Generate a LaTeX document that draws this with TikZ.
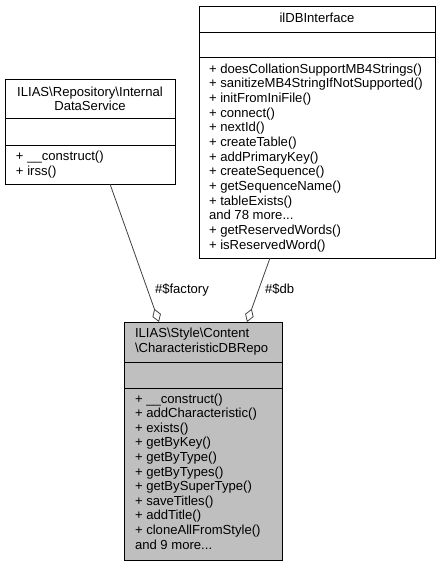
\documentclass[tikz,border=0pt]{standalone}
\usepackage{fontspec}
\setmainfont{Liberation Sans}
\usetikzlibrary{arrows.meta,calc}
\begin{document}
\begin{tikzpicture}[x=1pt,y=-1pt,
  box/.style={draw=black,line width=0.9pt},
  sep/.style={draw=black,line width=0.9pt},
  txt/.style={inner sep=0pt,outer sep=0pt,font=\fontsize{13.1}{14.6}\selectfont,text=black},
  edge/.style={draw=black!75,line width=0.8pt,-{Diamond[open,length=14pt,width=9pt,line width=0.8pt]}},
  lbl/.style={txt}
]
\useasboundingbox (0,0) rectangle (440,565);
% ilDBInterface
\path[box] (199,6) rectangle (435,258);
\coordinate (idbb) at (270,258);
\draw[sep] (199,32) -- (435,32);
\draw[sep] (199,57) -- (435,57);
\node[txt,anchor=base] (idbt) at (317,22) {ilDBInterface};
\foreach \t [count=\i] in {+ doesCollationSupportMB4Strings(),+ sanitizeMB4StringIfNotSupported(),+ initFromIniFile(),+ connect(),+ nextId(),+ createTable(),+ addPrimaryKey(),+ createSequence(),+ getSequenceName(),+ tableExists(),and 78 more{.}{.}{.},+ getReservedWords(),+ isReservedWord()}
  \node[txt,anchor=base west] (idbm\i) at (209,{73+14.67*(\i-1)}) {\t};
% Internal DataService
\path[box] (5,79) rectangle (175,184);
\coordinate (idsb) at (110,184);
\draw[sep] (5,118) -- (175,118);
\draw[sep] (5,145) -- (175,145);
\node[txt,anchor=base] (idst1) at (90,96) {ILIAS\textbackslash Repository\textbackslash Internal};
\node[txt,anchor=base] (idst2) at (90,110.6) {DataService};
\node[txt,anchor=base west] (idsm1) at (16,160.6) {+ \_\_construct()};
\node[txt,anchor=base west] (idsm2) at (16,175.2) {+ irss()};
% Main
\path[box,fill=black!25] (124,322) rectangle (282,560);
\coordinate (mainf) at (159,322);
\coordinate (maind) at (247,322);
\draw[sep] (124,362) -- (282,362);
\draw[sep] (124,388) -- (282,388);
\node[txt,anchor=base west] (mt1) at (135,337.5) {ILIAS\textbackslash Style\textbackslash Content};
\node[txt,anchor=base west] (mt2) at (135,352.1) {\textbackslash CharacteristicDBRepo};
\foreach \t [count=\i] in {+ \_\_construct(),+ addCharacteristic(),+ exists(),+ getByKey(),+ getByType(),+ getByTypes(),+ getBySuperType(),+ saveTitles(),+ addTitle(),+ cloneAllFromStyle(),and 9 more{.}{.}{.}}
  \node[txt,anchor=base west] (mm\i) at (135,{403+14.6*(\i-1)}) {\t};
% edges
\draw[edge] (idsb) -- (mainf);
\draw[edge] (idbb) -- (maind);
\node[lbl,anchor=base west] (lf) at (155,293) {\#\$factory};
\node[lbl,anchor=base west] (ld) at (265,293) {\#\$db};
\end{tikzpicture}
\end{document}
